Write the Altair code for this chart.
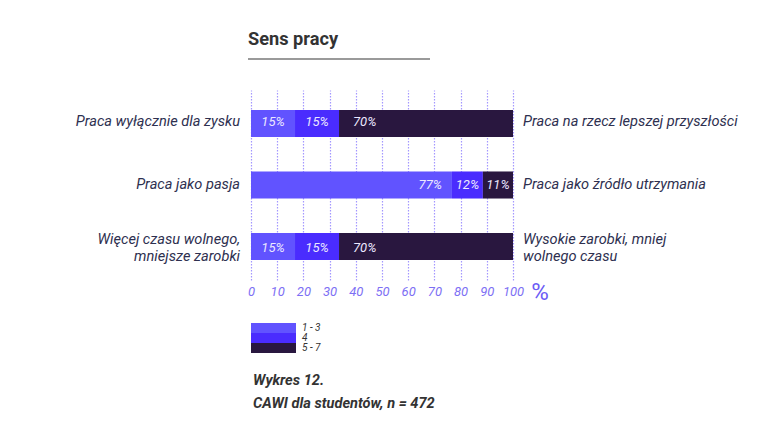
import altair as alt
import pandas as pd

# ---- data ----
rows = ["r1", "r2", "r3"]
left_labels = ["Praca wyłącznie dla zysku", "Praca jako pasja", "Więcej czasu wolnego,\nmniejsze zarobki"]
right_labels = ["Praca na rzecz lepszej przyszłości", "Praca jako źródło utrzymania", "Wysokie zarobki, mniej\nwolnego czasu"]
segments = ["1 - 3", "4", "5 - 7"]
colors = ["#6153ff", "#4a2cfe", "#29173f"]
# drawn bar lengths (percent of axis)
bar_values = [
    [16.8, 16.8, 66.4],
    [76.7, 11.8, 11.5],
    [16.8, 16.8, 66.4],
]
bar_labels = [
    ["15%", "15%", "70%"],
    ["77%", "12%", "11%"],
    ["15%", "15%", "70%"],
]
label_anchor = [
    ["mid", "mid", "start"],
    ["end", "mid", "mid"],
    ["mid", "mid", "start"],
]
ticks = list(range(0, 101, 10))
title_text = "Sens pracy"
caption1 = "Wykres 12."
caption2 = "CAWI dla studentów, n = 472"

# ---- build tables ----
recs = []
for r, vals, labs, anc in zip(rows, bar_values, bar_labels, label_anchor):
    s = 0.0
    for seg, v, l, a in zip(segments, vals, labs, anc):
        recs.append(dict(row=r, seg=seg, start=s, end=s + v, mid=s + v / 2, label=l, anchor=a))
        s += v
bars = pd.DataFrame(recs)
side_recs = []
for r, l in zip(rows, left_labels):
    side_recs.append(dict(row=r, text=l, side="left", x=0, multi="\n" in l))
for r, l in zip(rows, right_labels):
    side_recs.append(dict(row=r, text=l, side="right", x=100, multi="\n" in l))
side = pd.DataFrame(side_recs)
legend_df = pd.DataFrame(dict(seg=segments))

FONT = "Roboto"
xaxis = alt.Axis(values=ticks, grid=True, title=None)
xscale = alt.Scale(domain=[0, 100], nice=False, zero=True)
yenc = alt.Y("row:N", sort=rows, axis=None,
             scale=alt.Scale(domain=rows, paddingInner=0.56, paddingOuter=0.325))
color = alt.Color("seg:N", scale=alt.Scale(domain=segments, range=colors), legend=None)

base = alt.Chart(bars)

bar_layer = base.mark_rect().encode(
    x=alt.X("start:Q", scale=xscale, axis=xaxis),
    x2="end:Q",
    y=yenc,
    color=color,
)

txt_props = dict(font=FONT, fontStyle="italic", fontSize=13, color="#ece9ff", baseline="middle")
t_mid = base.transform_filter(alt.datum.anchor == "mid").mark_text(align="center", **txt_props).encode(
    x=alt.X("mid:Q", scale=xscale, axis=xaxis), y=yenc, text="label:N")
t_start = base.transform_filter(alt.datum.anchor == "start").mark_text(align="left", dx=14, **txt_props).encode(
    x=alt.X("start:Q", scale=xscale, axis=xaxis), y=yenc, text="label:N")
t_end = base.transform_filter(alt.datum.anchor == "end").mark_text(align="right", dx=-10, **txt_props).encode(
    x=alt.X("end:Q", scale=xscale, axis=xaxis), y=yenc, text="label:N")

side_props = dict(font=FONT, fontStyle="italic", fontSize=14.6, color="#2e3050", baseline="middle",
                  lineBreak="\n", lineHeight=17)
side_layers = []
for sd, al, ddx in [("left", "right", -11), ("right", "left", 10)]:
    for multi, ddy in [(False, 0), (True, -8)]:
        side_layers.append(
            alt.Chart(side).transform_filter(
                (alt.datum.side == sd) & (alt.datum.multi == multi)
            ).mark_text(align=al, dx=ddx, dy=ddy, **side_props).encode(
                x=alt.X("x:Q", scale=xscale, axis=xaxis), y=yenc, text="text:N")
        )

legend_y = alt.Y("seg:N", sort=segments, axis=None,
                 scale=alt.Scale(domain=segments, range=[233, 263], paddingInner=0, paddingOuter=0))
legend_rect = alt.Chart(legend_df).mark_rect().encode(
    x=alt.value(0), x2=alt.value(45), y=legend_y, color=color)
legend_text = alt.Chart(legend_df).mark_text(align="left", baseline="middle", font=FONT,
                                             fontStyle="italic", fontSize=10, color="#333333").encode(
    x=alt.value(51), y=legend_y, text="seg:N")

title_layer = alt.Chart(pd.DataFrame(dict(t=[title_text]))).mark_text(
    align="left", baseline="middle", font=FONT, fontWeight="bold", fontSize=18.2, color="#333333").encode(
    x=alt.value(-3), y=alt.value(-50), text="t:N")
title_rule = alt.Chart(pd.DataFrame(dict(t=[title_text]))).mark_rule(color="#9a9a9a", strokeWidth=2).encode(
    x=alt.value(-3), x2=alt.value(179), y=alt.value(-31))

pct_layer = alt.Chart(pd.DataFrame(dict(t=["%"]))).mark_text(
    align="center", baseline="middle", font=FONT, fontSize=24, color="#6b5cf5").encode(
    x=alt.value(289), y=alt.value(203), text="t:N")

cap = pd.DataFrame(dict(t=[caption1, caption2], yy=[291, 314]))
cap_layer = alt.Chart(cap).mark_text(
    align="left", baseline="middle", font=FONT, fontStyle="italic", fontWeight="bold",
    fontSize=14.6, color="#333333").encode(
    x=alt.value(2), y=alt.Y("yy:Q", scale=None), text="t:N")

chart = alt.layer(
    bar_layer, t_mid, t_start, t_end, *side_layers,
    legend_rect, legend_text, title_layer, title_rule, pct_layer, cap_layer
).resolve_scale(y="independent").properties(
    width=262, height=190,
    padding={"left": 243, "top": 82, "right": 255, "bottom": 150},
    autosize=alt.AutoSizeParams(type="none"),
    background="white",
).configure_view(stroke=None).configure_axisX(
    grid=True, gridDash=[1.5, 1.5], gridColor="#a397ff", gridWidth=1.2, gridOpacity=1,
    domain=False, ticks=False, labelFont=FONT, labelFontStyle="italic",
    labelColor="#7d6ff4", labelFontSize=13, labelPadding=5, labelFlush=False,
    labelOverlap=False,
)

chart.save("out.html", embed_options={"renderer": "svg", "actions": False})
